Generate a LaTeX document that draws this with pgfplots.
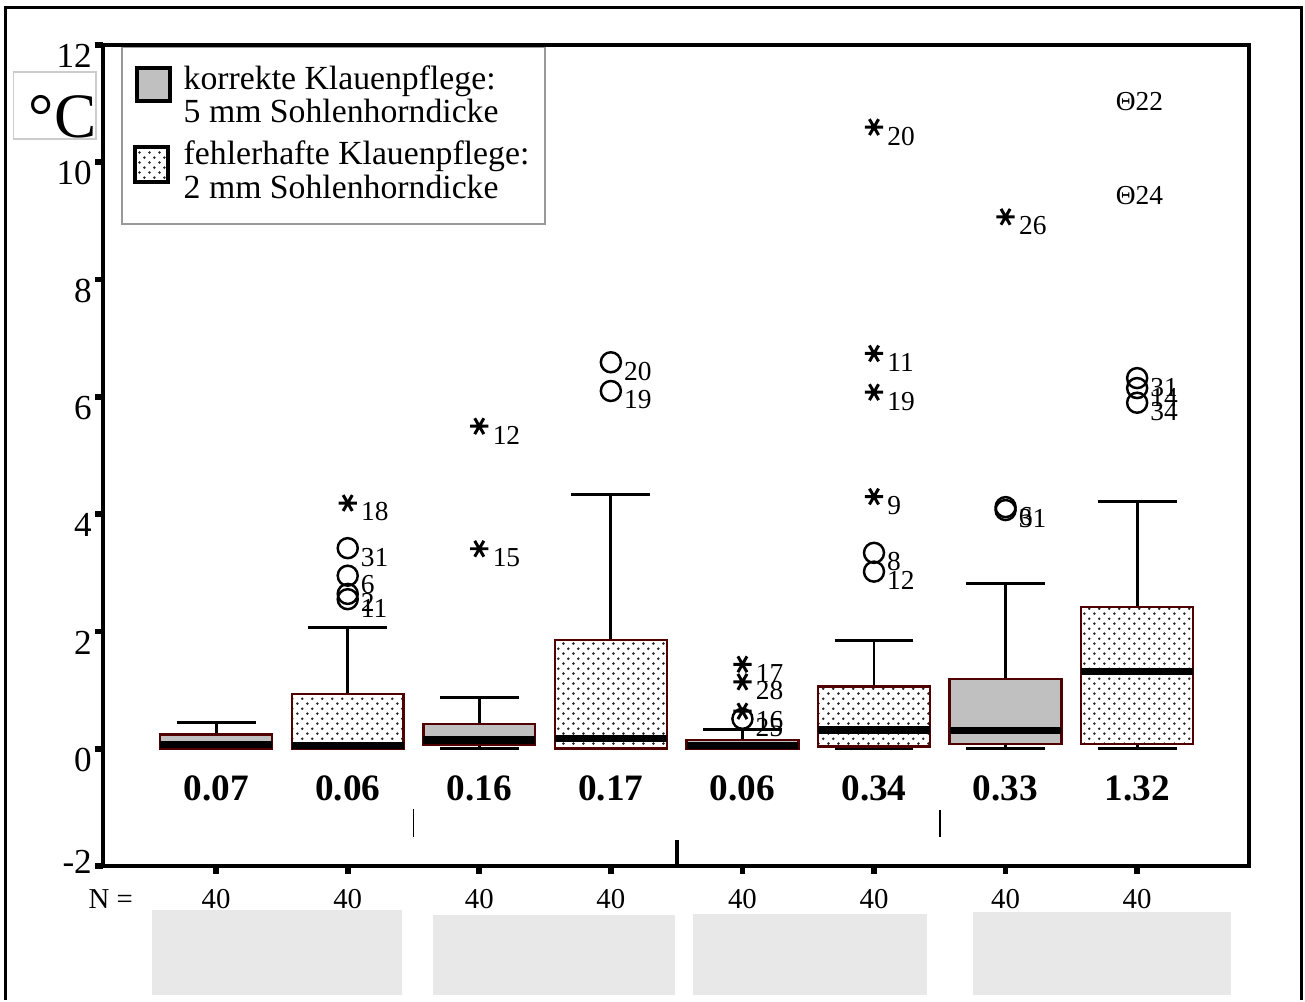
\documentclass[border=0pt]{standalone}
\usepackage{fontspec}
\setmainfont{Liberation Serif}
\usepackage{pgfplots}
\pgfplotsset{compat=1.18}
\usepgfplotslibrary{statistics}
\usetikzlibrary{patterns}
\definecolor{boxgray}{RGB}{192,192,192}
\definecolor{boxedge}{RGB}{80,0,0}
\definecolor{redact}{RGB}{232,232,232}
\pgfdeclarepatternformonly{mydots}{\pgfqpoint{0pt}{0pt}}{\pgfqpoint{2.8pt}{2.8pt}}{\pgfqpoint{2.8pt}{2.8pt}}{%
  \pgfpathcircle{\pgfqpoint{0.7pt}{0.7pt}}{0.4pt}%
  \pgfpathcircle{\pgfqpoint{2.1pt}{2.1pt}}{0.4pt}%
  \pgfusepath{fill}}
\pgfplotsset{
  korr/.style={
    boxplot/draw direction=y,
    boxplot/every box/.style={fill=boxgray, draw=boxedge, line width=0.7pt},
    boxplot/every whisker/.style={black, line width=0.85pt},
    boxplot/every median/.style={black, line width=2.1pt}},
  fehl/.style={
    boxplot/draw direction=y,
    boxplot/every box/.style={pattern=mydots, pattern color=black!85, draw=boxedge, line width=0.7pt},
    boxplot/every whisker/.style={black, line width=0.85pt},
    boxplot/every median/.style={black, line width=2.1pt}},
  outl/.style={only marks, nodes near coords, point meta=explicit symbolic,
    every node near coord/.append style={anchor=west, inner sep=0pt, xshift=1.2mm, yshift=-0.9mm,
      font=\fontsize{7.8}{8}\selectfont, text=black}},
}
\begin{document}
\begin{tikzpicture}
\begin{scope}[x=0.1mm,y=-0.1mm]
\path[use as bounding box] (0,0) rectangle (1305,990);
\end{scope}
\begin{axis}[
  at={(10.3mm,-86.6mm)}, anchor=south west,
  width=114.6mm, height=82.1mm, scale only axis,
  xmin=0.14, xmax=8.85, ymin=-2, ymax=12,
  axis line style={line width=1.1pt},
  xtick={1,...,8}, xticklabels={40,40,40,40,40,40,40,40},
  ytick={0,2,...,12},
  extra y ticks={-2},
  extra y tick style={yticklabel style={yshift=1.5mm}},
  tick align=outside, xtick pos=bottom, ytick pos=left,
  major tick length=0.75mm,
  tick style={line width=1.6pt, black},
  /pgf/number format/assume math mode=true,
  xticklabel style={font=\fontsize{8.2}{9}\selectfont, inner sep=0pt, anchor=north, yshift=-1.5mm},
  yticklabel style={font=\fontsize{10}{11}\selectfont, inner sep=0pt, anchor=east, xshift=-0.3mm, yshift=-1.1mm},
  boxplot/box extend=0.85, boxplot/whisker extend=0.6,
  clip=false,
]
\addplot[korr, boxplot prepared={draw position=1, lower whisker=0, lower quartile=0, median=0.07, upper quartile=0.245, upper whisker=0.44}] coordinates {};
\addplot[fehl, boxplot prepared={draw position=2, lower whisker=0, lower quartile=0, median=0.06, upper quartile=0.93, upper whisker=2.06}] coordinates {};
\addplot[korr, boxplot prepared={draw position=3, lower whisker=0, lower quartile=0.075, median=0.15, upper quartile=0.42, upper whisker=0.88}] coordinates {};
\addplot[fehl, boxplot prepared={draw position=4, lower whisker=0, lower quartile=0, median=0.17, upper quartile=1.85, upper whisker=4.34}] coordinates {};
\addplot[korr, boxplot prepared={draw position=5, lower whisker=0, lower quartile=0, median=0.06, upper quartile=0.15, upper whisker=0.32}] coordinates {};
\addplot[fehl, boxplot prepared={draw position=6, lower whisker=0, lower quartile=0.035, median=0.32, upper quartile=1.06, upper whisker=1.84}] coordinates {};
\addplot[korr, boxplot prepared={draw position=7, lower whisker=0, lower quartile=0.08, median=0.31, upper quartile=1.19, upper whisker=2.81}] coordinates {};
\addplot[fehl, boxplot prepared={draw position=8, lower whisker=0, lower quartile=0.08, median=1.32, upper quartile=2.42, upper whisker=4.21}] coordinates {};
% circles (outliers)
\addplot[outl, mark=o, mark size=2.85pt, mark options={line width=0.7pt, draw=black}] coordinates {
 (2,3.42)[31] (2,2.95)[6] (2,2.64)[2] (2,2.55)[11]
 (4,6.59)[20] (4,6.10)[19]
 (5,0.51)[25]
 (6,3.34)[8] (6,3.02)[12]
 (7,4.12)[6] (7,4.07)[31]
 (8,6.32)[31] (8,6.15)[14] (8,5.90)[34]
};
% stars (extremes)
\addplot[outl, mark=asterisk, mark size=2.6pt, mark options={line width=0.85pt, draw=black, rotate=90}] coordinates {
 (2,4.19)[18]
 (3,5.50)[12] (3,3.41)[15]
 (5,1.44)[17] (5,1.14)[28] (5,0.64)[16]
 (6,10.60)[20] (6,6.74)[11] (6,6.08)[19] (6,4.30)[9]
 (7,9.07)[26]
};
% Theta-marked extremes
\addplot[draw=none, mark=none, nodes near coords, point meta=explicit symbolic,
  every node near coord/.append style={anchor=west, inner sep=0pt, xshift=-2.2mm, font=\fontsize{7.8}{8}\selectfont, text=black}] coordinates {
 (8,11.03)[Θ22] (8,9.44)[Θ24]
};
% medians written below the boxes
\addplot[draw=none, mark=none, nodes near coords, point meta=explicit symbolic,
  every node near coord/.append style={anchor=center, inner sep=0pt, font=\bfseries\fontsize{10.6}{12}\selectfont, text=black}] coordinates {
 (1,-0.68)[0.07] (2,-0.68)[0.06] (3,-0.68)[0.16] (4,-0.68)[0.17]
 (5,-0.68)[0.06] (6,-0.68)[0.34] (7,-0.68)[0.33] (8,-0.68)[1.32]
};
\draw[line width=0.55pt] (axis cs:2.5,-1.03) -- (axis cs:2.5,-1.51);
\draw[line width=1.1pt] (axis cs:4.5,-1.56) -- (axis cs:4.5,-2);
\draw[line width=0.55pt] (axis cs:6.5,-1.05) -- (axis cs:6.5,-1.51);
\end{axis}
\begin{scope}[x=0.1mm,y=-0.1mm]
% outer frame
\draw[line width=0.6pt] (5.5,1000) -- (5.5,7.5) -- (1301.5,7.5) -- (1301.5,1000);
% unit box
\draw[draw=black!20, line width=0.4pt, fill=white] (13.5,72) rectangle (96,139);
\node[anchor=base, inner sep=0pt, font=\fontsize{18}{18}\selectfont] at (62.5,137) {°C};
% legend
\draw[draw=black!40, line width=0.5pt, fill=white] (122,47.5) rectangle (545,224);
\draw[line width=1.1pt, fill=boxgray] (137,68) rectangle (170,101);
\draw[line width=1.1pt, pattern=mydots, pattern color=black!85] (135,147) rectangle (168,182);
\begin{scope}[every node/.style={anchor=base west, inner sep=0pt, font=\fontsize{9.6}{10}\selectfont}]
\node at (183,89) {korrekte Klauenpflege:};
\node at (183,122) {5 mm Sohlenhorndicke};
\node at (183,164) {fehlerhafte Klauenpflege:};
\node at (183,198) {2 mm Sohlenhorndicke};
\end{scope}
% N =
\node[anchor=west, inner sep=0pt, font=\fontsize{8.2}{9}\selectfont] at (88,899) {N =};
% redaction boxes
\fill[redact] (152,910) rectangle (402,995);
\fill[redact] (433,915) rectangle (675,995);
\fill[redact] (693,914) rectangle (927,995);
\fill[redact] (973,912) rectangle (1231,995);
\end{scope}
\end{tikzpicture}
\end{document}
